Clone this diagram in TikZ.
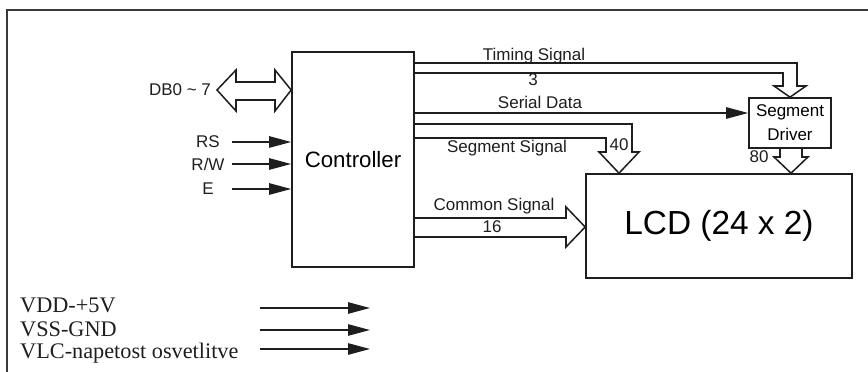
\documentclass[tikz,border=0pt]{standalone}
\usepackage{fontspec}
\setmainfont{Liberation Serif}
\setsansfont{Liberation Sans}
\usepackage{tikz}
\usetikzlibrary{arrows.meta, positioning, calc}
\definecolor{ink}{HTML}{1E1E1E}
\definecolor{frame}{HTML}{3A3A3A}

\begin{document}
\begin{tikzpicture}[
    x=0.3mm, y=-0.3mm,
    blk/.style={draw=ink, line width=1.4pt, inner sep=0pt, minimum width=#1},
    lbl/.style={font=\sffamily\fontsize{14.5}{17}\selectfont, inner sep=0pt, text=ink},
    fat/.style={draw=ink, line width=1.3pt, line join=miter},
    sig/.style={draw=ink, line width=1.4pt, -{Triangle[length=6.6mm, width=3.4mm]}},
    leg/.style={font=\rmfamily\fontsize{19}{22}\selectfont, inner sep=0pt, text=ink, anchor=base west},
]
    \useasboundingbox (0,0) rectangle (868,372);
    % frame
    \draw[frame, line width=1.8pt] (7,380) |- (880,10);

    % Blocks
    \node[blk=36.6mm, minimum height=64.5mm, font=\sffamily\fontsize{19}{22}\selectfont] (ctrl) at (353,159.5) {Controller};
    \node[blk=79.8mm, minimum height=31.2mm, font=\sffamily\fontsize{28.5}{32}\selectfont] (lcd) at (719,226) {LCD (24 x 2)};
    \node[blk=24.6mm, minimum height=15mm, align=center, font=\sffamily\fontsize{14.5}{20.5}\selectfont] (drv) at (790,123) {Segment\\Driver};

    % Inputs
    \node[lbl] (db) at (180,90) {DB0 \textasciitilde\ 7};
    \node[lbl, minimum width=14.4mm] (rs) at (208,142) {RS};
    \node[lbl, minimum width=14.4mm] (rw) at (208,164) {R/W};
    \node[lbl, minimum width=14.4mm] (e) at (208,189) {E};
    \draw[fat] (217,90) -- (236,70) -- (236,82) -- (275,82) -- (275,70) -- (ctrl.west |- 0,90)
        -- (275,111) -- (275,100) -- (236,100) -- (236,111) -- cycle;
    \draw[sig] (rs.east) -- (ctrl.west |- rs);
    \draw[sig] (rw.east) -- (ctrl.west |- rw);
    \draw[sig] (e.east) -- (ctrl.west |- e);

    % Timing signal
    \draw[fat] (ctrl.east |- 0,63) -- (797,63) -- (797,86) -- (806,86) -- (drv.north)
        -- (774,86) -- (783,86) -- (783,73) -- (ctrl.east |- 0,73);
    \node[lbl, anchor=base] (tim) at (534,61) {Timing Signal};
    \node[lbl] (tim3) at (533,80) {3};

    % Serial data
    \draw[sig] (ctrl.east |- 0,113) -- (drv.west |- 0,113);
    \node[lbl, anchor=base] (ser) at (540,109) {Serial Data};

    % Segment signal
    \draw[fat] (ctrl.east |- 0,124) -- (632,124) -- (632,152) -- (639,152) -- (619,0 |- lcd.north)
        -- (599,152) -- (606,152) -- (606,138) -- (ctrl.east |- 0,138);
    \node[lbl, anchor=base] (seg) at (507,153) {Segment Signal};
    \node[lbl, anchor=base] (seg40) at (619,151) {40};

    % Driver output
    \draw[fat] (780,0 |- drv.south) -- (780,157) -- (774,157) -- (791,0 |- lcd.north)
        -- (808,157) -- (802,157) -- (802,0 |- drv.south);
    \node[lbl, anchor=base] (drv80) at (759,163) {80};

    % Common signal
    \draw[fat] (ctrl.east |- 0,218) -- (566,218) -- (566,207) -- (lcd.west |- 0,227)
        -- (566,247) -- (566,237) -- (ctrl.east |- 0,237);
    \node[lbl, anchor=base] (com) at (494,211) {Common Signal};
    \node[lbl, anchor=base] (com16) at (492,233) {16};

    % Supply legend
    \node[leg] (vdd) at (20,313) {VDD-+5V};
    \node[leg] (vss) at (20,337) {VSS-GND};
    \node[leg] (vlc) at (20,359) {VLC-napetost osvetlitve};
    \foreach \y [count=\i] in {308,330,349} {
        \coordinate (pw\i) at (260,\y);
        \coordinate (pe\i) at (370,\y);
        \draw[sig] (pw\i) -- (pe\i);
    }
\end{tikzpicture}
\end{document}
